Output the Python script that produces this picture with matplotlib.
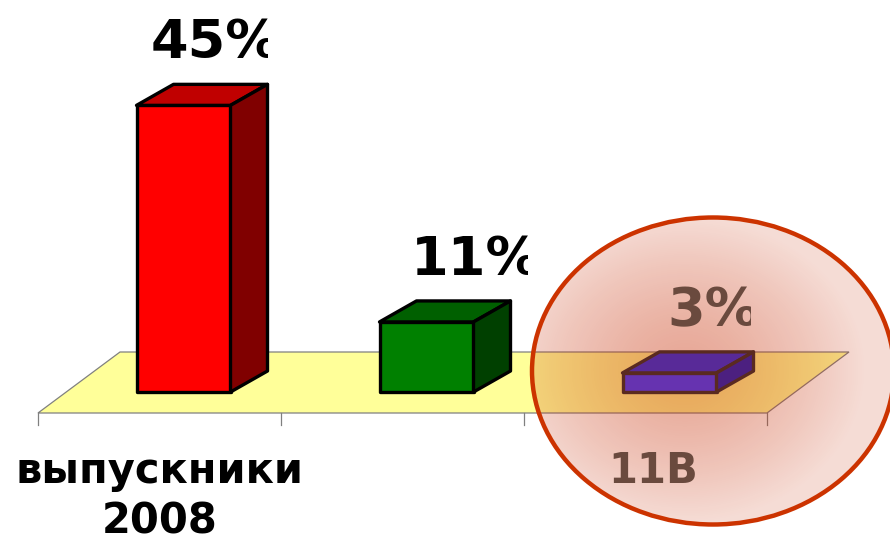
import numpy as np
import matplotlib
matplotlib.use("Agg")
import matplotlib.pyplot as plt
from matplotlib.patches import Polygon, Rectangle, Ellipse

# ---- data ----
categories = ["выпускники\n2008", "", "11В"]
values = [45, 11, 3]
value_labels = ["45%", "11%", "3%"]

# ---- style ----
front_colors = ["#FF0000", "#008000", "#6633B0"]
top_colors = ["#C00000", "#006000", "#582A98"]
side_colors = ["#800000", "#004000", "#4C2080"]
edge_colors = ["black", "black", "#5A2A20"]
text_colors = ["black", "black", "#6A4A3E"]
highlighted = [False, False, True]

PX_X = 243.0   # pixels per category
PX_Y = 6.37    # pixels per percent
fig = plt.figure(figsize=(8.9, 5.42), dpi=100)
ax = fig.add_axes([0, 0, 1, 1])
x_left = -0.5 - 38 / PX_X
ax.set_xlim(x_left, x_left + 890 / PX_X)
ax.set_ylim(-(542 - 392) / PX_Y, 392 / PX_Y)
ax.axis("off")

bar_w = 94 / PX_X
bar_off = 24 / PX_X
ddx, ddy = 37 / PX_X, 21 / PX_Y          # bar depth
fdx, fdy = 82 / PX_X, 61 / PX_Y          # floor depth
floor_y = -21 / PX_Y

n = len(values)
# floor
fl = [(-0.5, floor_y), (n - 0.5, floor_y), (n - 0.5 + fdx, floor_y + fdy), (-0.5 + fdx, floor_y + fdy)]
ax.add_patch(Polygon(fl, closed=True, facecolor="#FFFF99", edgecolor="#808080", lw=0.9, zorder=1))
tick_len = 12 / PX_Y
for b in np.arange(-0.5, n, 1.0):
    ax.plot([b, b], [floor_y, floor_y - tick_len], color="#808080", lw=0.9, zorder=1)

# bars
for i, v in enumerate(values):
    x0 = i - 0.5 * bar_w + bar_off
    x1 = x0 + bar_w
    z = 8 if highlighted[i] else 3
    kw = dict(closed=True, edgecolor=edge_colors[i], lw=2.4, joinstyle="round", zorder=z)
    ax.add_patch(Polygon([(x0, 0), (x1, 0), (x1, v), (x0, v)], facecolor=front_colors[i], **kw))
    ax.add_patch(Polygon([(x0, v), (x1, v), (x1 + ddx, v + ddy), (x0 + ddx, v + ddy)], facecolor=top_colors[i], **kw))
    ax.add_patch(Polygon([(x1, 0), (x1 + ddx, ddy), (x1 + ddx, v + ddy), (x1, v)], facecolor=side_colors[i], **kw))

# value labels
label_dx = [0.23, 0.30, 0.28]
texts = []
for i, (v, lab) in enumerate(zip(values, value_labels)):
    t = ax.text(i + label_dx[i], v + ddy + 26 / PX_Y, lab, ha="center", va="baseline",
                fontsize=39, fontweight="bold", family="DejaVu Sans", color=text_colors[i],
                zorder=8 if highlighted[i] else 4)
    texts.append(t)

# category labels
cat_dx = [0.0, 0.0, 0.03]
for i, c in enumerate(categories):
    ax.text(i + cat_dx[i], -(450 - 392) / PX_Y, c, ha="center", va="top", fontsize=30, fontweight="bold",
            family="DejaVu Sans", linespacing=1.25, color=text_colors[i],
            zorder=8 if highlighted[i] else 4)

# clip the percent signs like the reference
fig.canvas.draw()
inv = ax.transData.inverted()
for t in texts:
    bb = t.get_window_extent()
    xr = bb.x0 + 0.905 * bb.width
    (dx0, dy0) = inv.transform((bb.x0 - 5, bb.y0 - 20))
    (dx1, dy1) = inv.transform((xr, bb.y1 + 20))
    r = Rectangle((dx0, dy0), dx1 - dx0, dy1 - dy0, transform=ax.transData)
    t.set_clip_path(r)
    t.set_clip_on(True)

# highlight ellipse with radial gradient
ecx, ecy = x_left + 713 / PX_X, (392 - 371) / PX_Y
ew, eh = 362 / PX_X, 307 / PX_Y
gx, gy = x_left + 685 / PX_X, (392 - 370) / PX_Y
ext = [ecx - ew / 2, ecx + ew / 2, ecy - eh / 2, ecy + eh / 2]
nx, ny = 362, 307
xs = np.linspace(ext[0], ext[1], nx)
ys = np.linspace(ext[2], ext[3], ny)
X, Y = np.meshgrid(xs, ys)
R = np.sqrt(((X - gx) / (ew / 2)) ** 2 + ((Y - gy) / (eh / 2)) ** 2)
R = np.clip(R, 0, 1)
alpha = 0.43 - 0.26 * R ** 1.4
img = np.zeros((ny, nx, 4))
img[..., 0] = 200 / 255
img[..., 1] = 50 / 255
img[..., 2] = 10 / 255
img[..., 3] = alpha
ell_clip = Ellipse((ecx, ecy), ew, eh, transform=ax.transData)
im = ax.imshow(img, extent=ext, origin="lower", aspect="auto", zorder=6, interpolation="bilinear")
im.set_clip_path(ell_clip)
ax.add_patch(Ellipse((ecx, ecy), ew, eh, facecolor="none", edgecolor="#CC3300", lw=3.2, zorder=9))
ax.set_xlim(x_left, x_left + 890 / PX_X)
ax.set_ylim(-(542 - 392) / PX_Y, 392 / PX_Y)

fig.savefig("out.png", dpi=100)
